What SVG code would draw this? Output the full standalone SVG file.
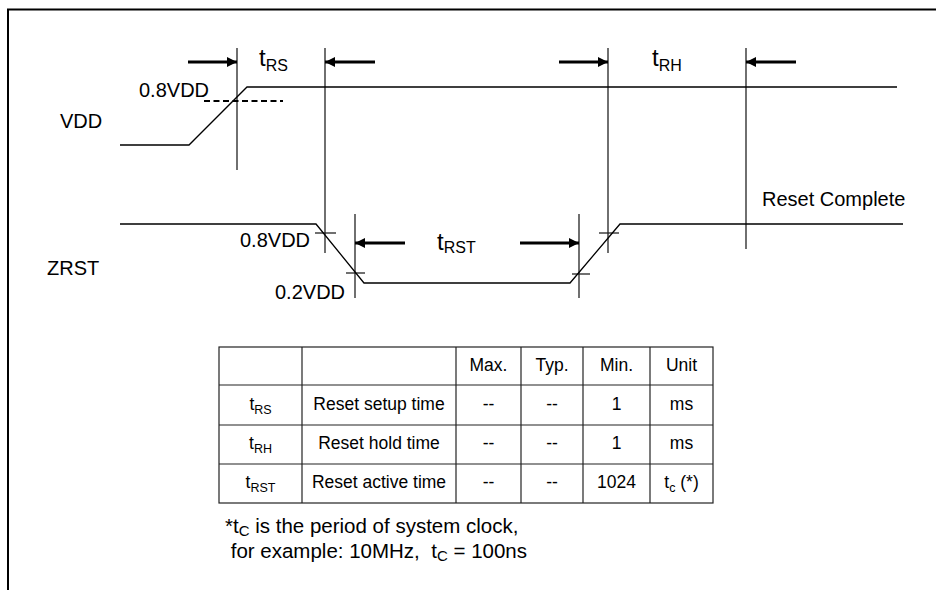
<svg xmlns="http://www.w3.org/2000/svg" width="936" height="590" viewBox="0 0 936 590">
<style>
text{font-family:"Liberation Sans",Arial,sans-serif;fill:#000}
.lbl{font-size:20px}
.tl{font-size:24px}
.sub{font-size:16px}
.tb{font-size:17.5px;text-anchor:middle}
.tsub{font-size:12.5px}
.fn{font-size:20.5px;white-space:pre}
.fsub{font-size:15px}
.sig{fill:none;stroke:#000;stroke-width:1.3}
.ref{fill:none;stroke:#222;stroke-width:1.3}
.arr{fill:none;stroke:#000;stroke-width:3;marker-end:url(#ah)}
.grid{fill:none;stroke:#222;stroke-width:1.2}
</style>
<defs>
<marker id="ah" markerUnits="userSpaceOnUse" markerWidth="11" markerHeight="11" refX="10" refY="5" orient="auto">
<path d="M0,0 L10,5 L0,10 z" fill="#000"/>
</marker>
</defs>
<rect width="936" height="590" fill="#fff"/>
<g id="frame">
<path d="M8,590 V9.5 H936" fill="none" stroke="#000" stroke-width="2"/>
</g>
<g id="connectors">
<line class="ref" x1="237" y1="48" x2="237" y2="170"/>
<line class="ref" x1="325" y1="48" x2="325" y2="253"/>
<line class="ref" x1="608" y1="48" x2="608" y2="253"/>
<line class="ref" x1="746" y1="48" x2="746" y2="249"/>
<line class="ref" x1="355" y1="214" x2="355" y2="298"/>
<line class="ref" x1="579" y1="214" x2="579" y2="298"/>
<line class="ref" x1="315" y1="233" x2="336" y2="233"/>
<line class="ref" x1="346" y1="273" x2="365" y2="273"/>
<line class="ref" x1="572" y1="274" x2="590" y2="274"/>
<line class="ref" x1="599" y1="233" x2="619" y2="233"/>
<line class="arr" x1="188" y1="62" x2="237" y2="62"/>
<line class="arr" x1="375" y1="62" x2="325" y2="62"/>
<line class="arr" x1="559" y1="62" x2="608" y2="62"/>
<line class="arr" x1="796" y1="62" x2="746" y2="62"/>
<line class="arr" x1="405" y1="243" x2="355" y2="243"/>
<line class="arr" x1="520" y1="243" x2="579" y2="243"/>
</g>
<g id="vdd">
<polyline class="sig" points="120,145 189,145 247,87 897,87"/>
<line x1="204" y1="101" x2="283" y2="101" stroke="#000" stroke-width="2" stroke-dasharray="6 3.5"/>
<text class="lbl" x="60" y="128">VDD</text>
<text class="lbl" x="139" y="97">0.8VDD</text>
</g>
<g id="zrst">
<polyline class="sig" points="120,224 316,224 364,283 570,283 620,224 903,224"/>
<text class="lbl" x="47" y="275">ZRST</text>
<text class="lbl" x="240" y="247">0.8VDD</text>
<text class="lbl" x="275" y="299">0.2VDD</text>
<text class="lbl" x="762" y="206">Reset Complete</text>
</g>
<g id="labels">
<text class="tl" x="259" y="66">t<tspan class="sub" dy="5">RS</tspan></text>
<text class="tl" x="652" y="66">t<tspan class="sub" dy="5">RH</tspan></text>
<text class="tl" x="437" y="250">t<tspan class="sub" dy="3">RST</tspan></text>
</g>
<g id="table">
<rect class="grid" x="219" y="347" width="494" height="156"/>
<line class="grid" x1="219" y1="385" x2="713" y2="385"/>
<line class="grid" x1="219" y1="425" x2="713" y2="425"/>
<line class="grid" x1="219" y1="464" x2="713" y2="464"/>
<line class="grid" x1="302" y1="347" x2="302" y2="503"/>
<line class="grid" x1="456" y1="347" x2="456" y2="503"/>
<line class="grid" x1="521" y1="347" x2="521" y2="503"/>
<line class="grid" x1="583" y1="347" x2="583" y2="503"/>
<line class="grid" x1="650" y1="347" x2="650" y2="503"/>
<text class="tb" x="488.5" y="371">Max.</text>
<text class="tb" x="552" y="371">Typ.</text>
<text class="tb" x="616.5" y="371">Min.</text>
<text class="tb" x="681.5" y="371">Unit</text>
<text class="tb" x="260.5" y="410">t<tspan class="tsub" dy="4">RS</tspan></text>
<text class="tb" x="379" y="410">Reset setup time</text>
<text class="tb" x="488.5" y="410">--</text>
<text class="tb" x="552" y="410">--</text>
<text class="tb" x="616.5" y="410">1</text>
<text class="tb" x="681.5" y="410">ms</text>
<text class="tb" x="260.5" y="449">t<tspan class="tsub" dy="4">RH</tspan></text>
<text class="tb" x="379" y="449">Reset hold time</text>
<text class="tb" x="488.5" y="449">--</text>
<text class="tb" x="552" y="449">--</text>
<text class="tb" x="616.5" y="449">1</text>
<text class="tb" x="681.5" y="449">ms</text>
<text class="tb" x="260.5" y="488">t<tspan class="tsub" dy="4">RST</tspan></text>
<text class="tb" x="379" y="488">Reset active time</text>
<text class="tb" x="488.5" y="488">--</text>
<text class="tb" x="552" y="488">--</text>
<text class="tb" x="616.5" y="488">1024</text>
<text class="tb" x="681.5" y="488">t<tspan class="tsub" dy="4">c</tspan><tspan dy="-4"> (*)</tspan></text>
</g>
<g id="footnote">
<text class="fn" x="225" y="533">*t<tspan class="fsub" dy="3">C</tspan><tspan dy="-3"> is the period of system clock,</tspan></text>
<text class="fn" x="225" y="558"> for example: 10MHz,  t<tspan class="fsub" dy="3">C</tspan><tspan dy="-3"> = 100ns</tspan></text>
</g>
</svg>
